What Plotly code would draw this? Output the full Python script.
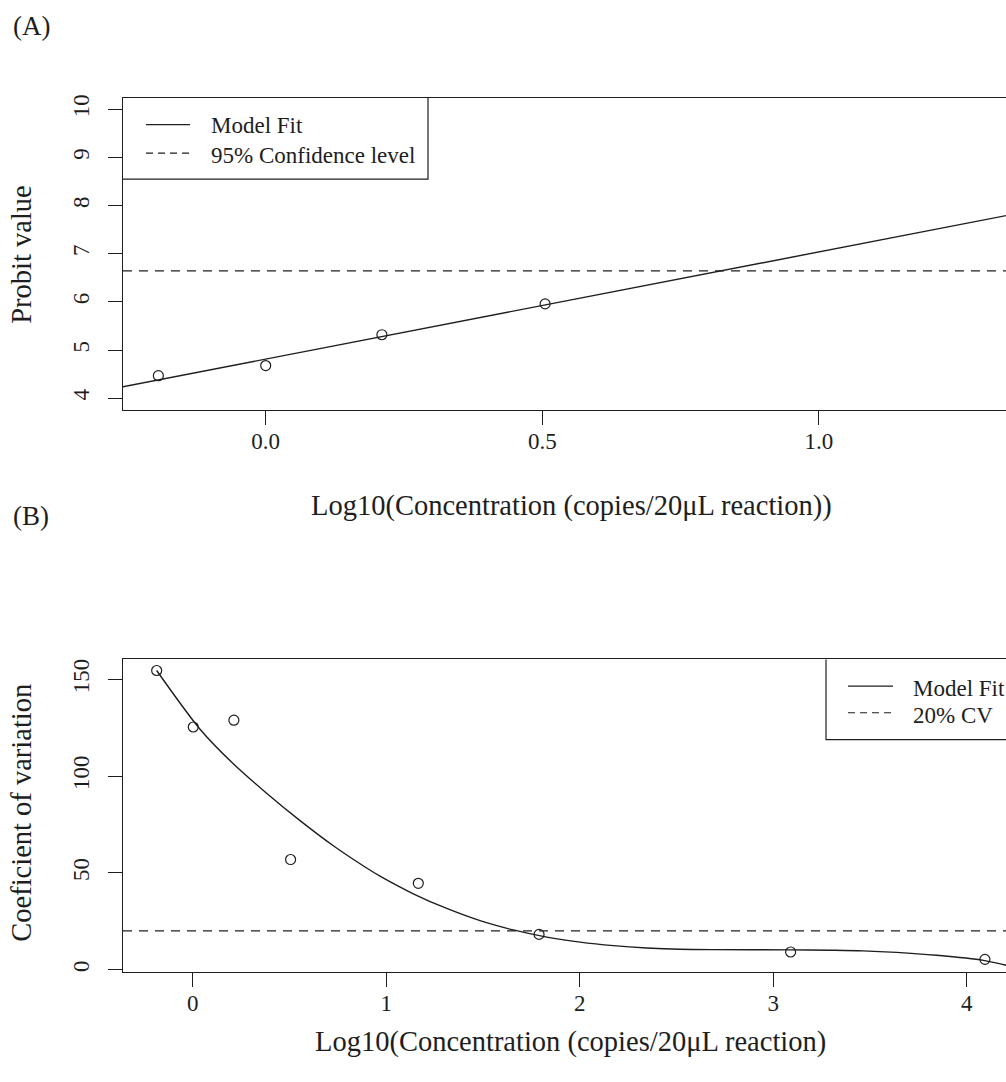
import plotly.graph_objects as go

W, H = 1006, 1082

# ---------------- data (A) probit ----------------
probit_x = [-0.194, 0.0, 0.21, 0.505]
probit_y = [4.47, 4.68, 5.32, 5.96]
probit_fit_x = [-0.26, 1.40]
probit_fit_y = [4.235, 7.93]
probit_95 = 6.645
probit_xticks = [0.0, 0.5, 1.0]
probit_xticklabels = ["0.0", "0.5", "1.0"]
probit_yticks = [4, 5, 6, 7, 8, 9, 10]

# ---------------- data (B) coefficient of variation ----------------
cv_x = [-0.186, 0.003, 0.213, 0.506, 1.166, 1.790, 3.090, 4.094]
cv_y = [154.6, 125.4, 128.9, 56.9, 44.6, 18.2, 9.1, 5.3]
cv_fit_x = [-0.186, 0.037, 0.210, 0.382, 0.555, 0.727, 0.899, 0.968, 1.140,
            1.313, 1.485, 1.657, 1.830, 2.002, 2.174, 2.346, 2.518, 2.70,
            3.087, 3.30, 3.464, 3.638, 3.845, 4.086, 4.198, 4.28]
cv_fit_y = [154.6, 124.4, 106.4, 91.2, 77.0, 64.0, 52.5, 48.3, 39.2,
            31.6, 25.3, 20.5, 16.8, 14.2, 12.4, 11.2, 10.5, 10.3,
            10.2, 10.0, 9.7, 8.9, 7.4, 4.8, 2.4, 0.8]
cv_limit = 20
cv_xticks = [0, 1, 2, 3, 4]
cv_yticks = [0, 50, 100, 150]

FONT = "Liberation Serif"
INK = "#1e1e1e"
TICKF = 23
LABF = 28.5


def X(px):
    return px / W


def Y(py):
    return 1 - py / H


fig = go.Figure()

# (A)
fig.add_trace(go.Scatter(x=probit_fit_x, y=probit_fit_y, mode="lines",
                         line=dict(color=INK, width=1.4), xaxis="x", yaxis="y",
                         showlegend=False, hoverinfo="skip"))
fig.add_trace(go.Scatter(x=probit_x, y=probit_y, mode="markers",
                         marker=dict(symbol="circle-open", size=10,
                                     line=dict(color=INK, width=1.2), color=INK),
                         xaxis="x", yaxis="y", showlegend=False))
# (B)
fig.add_trace(go.Scatter(x=cv_fit_x, y=cv_fit_y, mode="lines",
                         line=dict(color=INK, width=1.4, shape="spline", smoothing=0.8),
                         xaxis="x2", yaxis="y2", showlegend=False, hoverinfo="skip"))
fig.add_trace(go.Scatter(x=cv_x, y=cv_y, mode="markers",
                         marker=dict(symbol="circle-open", size=10,
                                     line=dict(color=INK, width=1.2), color=INK),
                         xaxis="x2", yaxis="y2", showlegend=False))

axcommon = dict(ticks="outside", ticklen=14, tickwidth=1.2, tickcolor=INK,
                showline=True, linecolor=INK, linewidth=1.2, showgrid=False,
                zeroline=False, tickfont=dict(family=FONT, size=TICKF, color=INK))

fig.update_layout(
    width=W, height=H, margin=dict(l=0, r=0, t=0, b=0),
    paper_bgcolor="white", plot_bgcolor="white",
    xaxis=dict(domain=[X(123), 1], range=[-0.2579, 1.338], anchor="y",
               tickvals=probit_xticks, ticktext=probit_xticklabels,
               mirror=True, ticklabelstandoff=-4, **axcommon),
    yaxis=dict(domain=[Y(408), Y(95)], range=[3.76, 10.24], anchor="x",
               tickvals=probit_yticks, tickangle=-90, ticklabelstandoff=10,
               **axcommon),
    xaxis2=dict(domain=[X(123), 1], range=[-0.360, 4.203], anchor="y2",
                tickvals=cv_xticks, mirror=True, ticklabelstandoff=-4, **axcommon),
    yaxis2=dict(domain=[Y(971.7), Y(658.3)], range=[-1.24, 160.3], anchor="x2",
                tickvals=cv_yticks, tickangle=-90, ticklabelstandoff=10,
                **axcommon),
)

shapes = []
# reference lines
shapes.append(dict(type="line", xref="x domain", yref="y", x0=0, x1=1,
                   y0=probit_95, y1=probit_95,
                   line=dict(color=INK, width=1.3, dash="9px,7px")))
shapes.append(dict(type="line", xref="x2 domain", yref="y2", x0=0, x1=1,
                   y0=cv_limit, y1=cv_limit,
                   line=dict(color=INK, width=1.3, dash="9px,7px")))
# legend A box (right and bottom edges)
shapes.append(dict(type="path", xref="paper", yref="paper",
                   path=f"M {X(123)} {Y(176.7)} L {X(428)} {Y(176.7)} L {X(428)} {Y(95)}",
                   line=dict(color=INK, width=1.2)))
shapes.append(dict(type="line", xref="paper", yref="paper", x0=X(146), x1=X(190),
                   y0=Y(122), y1=Y(122), line=dict(color=INK, width=1.3)))
shapes.append(dict(type="line", xref="paper", yref="paper", x0=X(146), x1=X(190),
                   y0=Y(150.5), y1=Y(150.5), line=dict(color=INK, width=1.2, dash="7px,5px")))
# legend B box (left and bottom edges)
shapes.append(dict(type="path", xref="paper", yref="paper",
                   path=f"M {X(826)} {Y(658.3)} L {X(826)} {Y(738.7)} L {X(1010)} {Y(738.7)}",
                   line=dict(color=INK, width=1.2)))
shapes.append(dict(type="line", xref="paper", yref="paper", x0=X(848), x1=X(893),
                   y0=Y(685), y1=Y(685), line=dict(color=INK, width=1.3)))
shapes.append(dict(type="line", xref="paper", yref="paper", x0=X(848), x1=X(893),
                   y0=Y(711.7), y1=Y(711.7), line=dict(color=INK, width=1.2, dash="7px,5px")))
fig.update_layout(shapes=shapes)


def ann(text, xpx, ypx, size, xanchor="left", angle=0):
    return dict(text=text, x=X(xpx), y=Y(ypx), xref="paper", yref="paper",
                xanchor=xanchor, yanchor="middle", showarrow=False, textangle=angle,
                font=dict(family=FONT, size=size, color=INK))


annotations = [
    ann("(A)", 11, 23, 27),
    ann("(B)", 11, 514, 27),
    ann("Log10(Concentration (copies/20\u03bcL reaction))", 571, 504, LABF, "center"),
    ann("Log10(Concentration (copies/20\u03bcL reaction)", 570, 1042, LABF, "center"),
    ann("Probit value", 22, 252.5, LABF, "center", -90),
    ann("Coeficient of variation", 22, 812, LABF, "center", -90),
    ann("Model Fit", 209, 123, TICKF),
    ann("95% Confidence level", 209, 152.5, TICKF),
    ann("Model Fit", 911, 687, TICKF),
    ann("20% CV", 911, 714, TICKF),
]
fig.update_layout(annotations=annotations)

fig.write_html("out.html")
